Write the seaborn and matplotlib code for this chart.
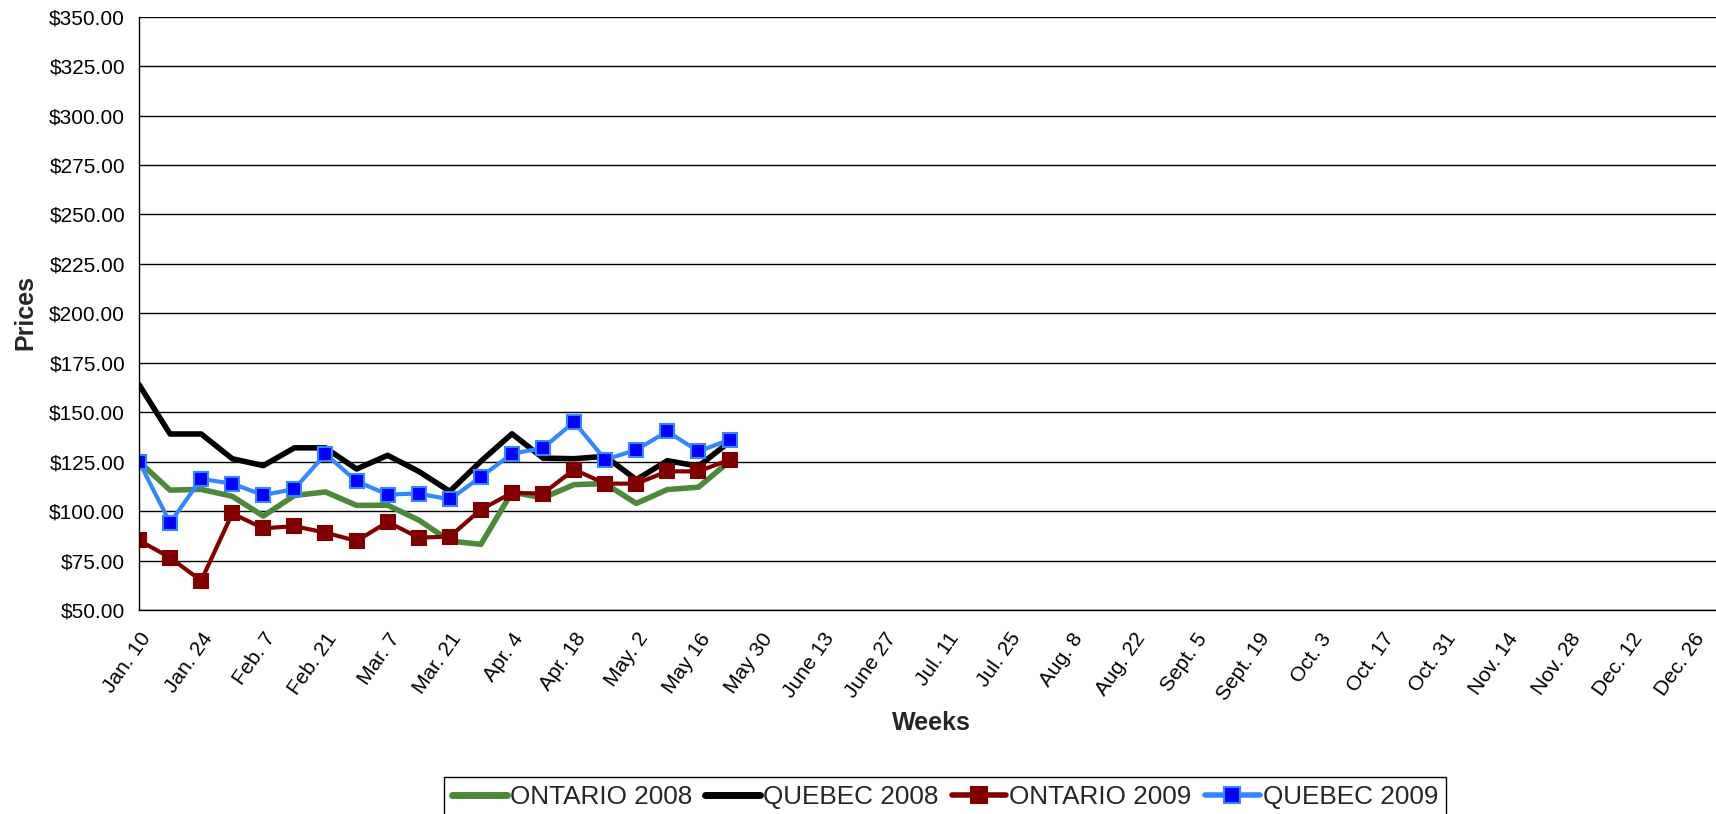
import matplotlib
matplotlib.use("Agg")
import matplotlib.pyplot as plt
import matplotlib.ticker as mticker
from matplotlib.lines import Line2D
import seaborn as sns
import pandas as pd
import numpy as np

# ---- data ----
week_labels = ["Jan. 10", "Jan. 24", "Feb. 7", "Feb. 21", "Mar. 7", "Mar. 21",
               "Apr. 4", "Apr. 18", "May. 2", "May 16", "May 30", "June 13",
               "June 27", "Jul. 11", "Jul. 25", "Aug. 8", "Aug. 22", "Sept. 5",
               "Sept. 19", "Oct. 3", "Oct. 17", "Oct. 31", "Nov. 14", "Nov. 28",
               "Dec. 12", "Dec. 26"]
n_weeks = 51  # weekly categories Jan. 10 .. Dec. 26

ontario_2008 = [125, 110.6, 111, 107.5, 97.5, 107.9, 109.7, 102.9, 103, 95.5,
                84.9, 83.2, 109.6, 106.7, 113.4, 113.9, 103.9, 110.9, 112.1, 125.2]
quebec_2008 = [164, 139, 139, 126.5, 123, 132, 132, 121.3, 128.2, 120.1,
               110, 125.2, 139.1, 126.8, 126.5, 127.7, 115.9, 125.5, 122.7, 135]
ontario_2009 = [85.2, 76.5, 64.8, 98.8, 91.3, 92.4, 89.1, 84.9, 94.5, 86.6,
                87.1, 100.8, 109.2, 108.9, 121, 113.9, 113.9, 120.1, 120.1, 126]
quebec_2009 = [125, 94.1, 116.3, 113.9, 108.1, 111.2, 128.9, 115.1, 108.4, 108.9,
               105.9, 117.3, 129, 131.9, 145.1, 126, 131, 140.3, 130.2, 136.1]

series_names = ["ONTARIO 2008", "QUEBEC 2008", "ONTARIO 2009", "QUEBEC 2009"]
series_values = [ontario_2008, quebec_2008, ontario_2009, quebec_2009]

rows = []
for name, vals in zip(series_names, series_values):
    for i, v in enumerate(vals):
        rows.append({"week": i, "price": v, "series": name})
df = pd.DataFrame(rows)

# ---- style ----
sns.set_theme(style="white")
plt.rcParams["font.family"] = ["Liberation Sans", "DejaVu Sans"]

styles = {
    "ONTARIO 2008": dict(color="#4C8A3A", lw=4.0, marker=None, mfc=None, mec=None),
    "QUEBEC 2008": dict(color="#000000", lw=4.0, marker=None, mfc=None, mec=None),
    "ONTARIO 2009": dict(color="#800000", lw=3.0, marker="s", mfc="#800000", mec="#800000"),
    "QUEBEC 2009": dict(color="#3388FF", lw=3.0, marker="s", mfc="#0000FF", mec="#3388FF"),
}

fig = plt.figure(figsize=(17.16, 8.14), dpi=100)
ax = fig.add_axes([139 / 1716, 1 - 610 / 814, 1 - 139 / 1716, (610 - 16.7) / 814])

for name in series_names:
    st = styles[name]
    sub = df[df["series"] == name]
    kw = dict(color=st["color"], linewidth=st["lw"], ax=ax, legend=False)
    if st["marker"]:
        kw.update(marker=st["marker"], markersize=10, markerfacecolor=st["mfc"],
                  markeredgecolor=st["mec"], markeredgewidth=1.5)
    sns.lineplot(data=sub, x="week", y="price", **kw)

ax.set_xlim(0, 50.74)
ax.set_ylim(50, 350)

ax.yaxis.set_major_locator(mticker.MultipleLocator(25))
ax.yaxis.set_major_formatter(mticker.FuncFormatter(lambda v, p: f"${v:,.2f}"))
ax.grid(axis="y", color="black", linewidth=1.0)
ax.set_axisbelow(True)

ax.set_xticks(np.arange(0, n_weeks, 2))
ax.set_xticklabels(week_labels, rotation=55, ha="right", rotation_mode="anchor")
ax.set_xticks(np.arange(n_weeks), minor=True)

ax.tick_params(axis="both", which="both", direction="out", color="black",
               labelsize=15, labelcolor="black")
ax.tick_params(axis="x", which="both", length=6, width=1)
ax.tick_params(axis="y", length=6, width=1, pad=4)
ax.tick_params(axis="x", pad=8)

for side in ["top", "right"]:
    ax.spines[side].set_visible(False)
for side in ["left", "bottom"]:
    ax.spines[side].set_color("black")
    ax.spines[side].set_linewidth(1.0)

ax.set_xlabel("")
ax.set_ylabel("")
fig.text(25 / 1716, 1 - 313 / 814, "Prices", rotation=90, ha="center", va="center",
         fontsize=18, fontweight="bold")
fig.text(931 / 1716, 1 - 723 / 814, "Weeks", ha="center", va="center",
         fontsize=18, fontweight="bold")

handles = []
for name in series_names:
    st = styles[name]
    handles.append(Line2D([], [], color=st["color"], linewidth=st["lw"] + 1,
                          marker=st["marker"] if st["marker"] else None,
                          markersize=12, markerfacecolor=st["mfc"],
                          markeredgecolor=st["mec"], markeredgewidth=1.5))
leg = fig.legend(handles, series_names, loc="upper center",
                 bbox_to_anchor=(945 / 1716, 1 - 777 / 814), ncol=4, fontsize=18.8,
                 frameon=True, fancybox=False, edgecolor="black", framealpha=1,
                 handlelength=2.1, handletextpad=0.12, columnspacing=0.5,
                 borderpad=0.3, borderaxespad=0)
leg.get_frame().set_linewidth(1.0)

fig.savefig("out.png", dpi=100)
